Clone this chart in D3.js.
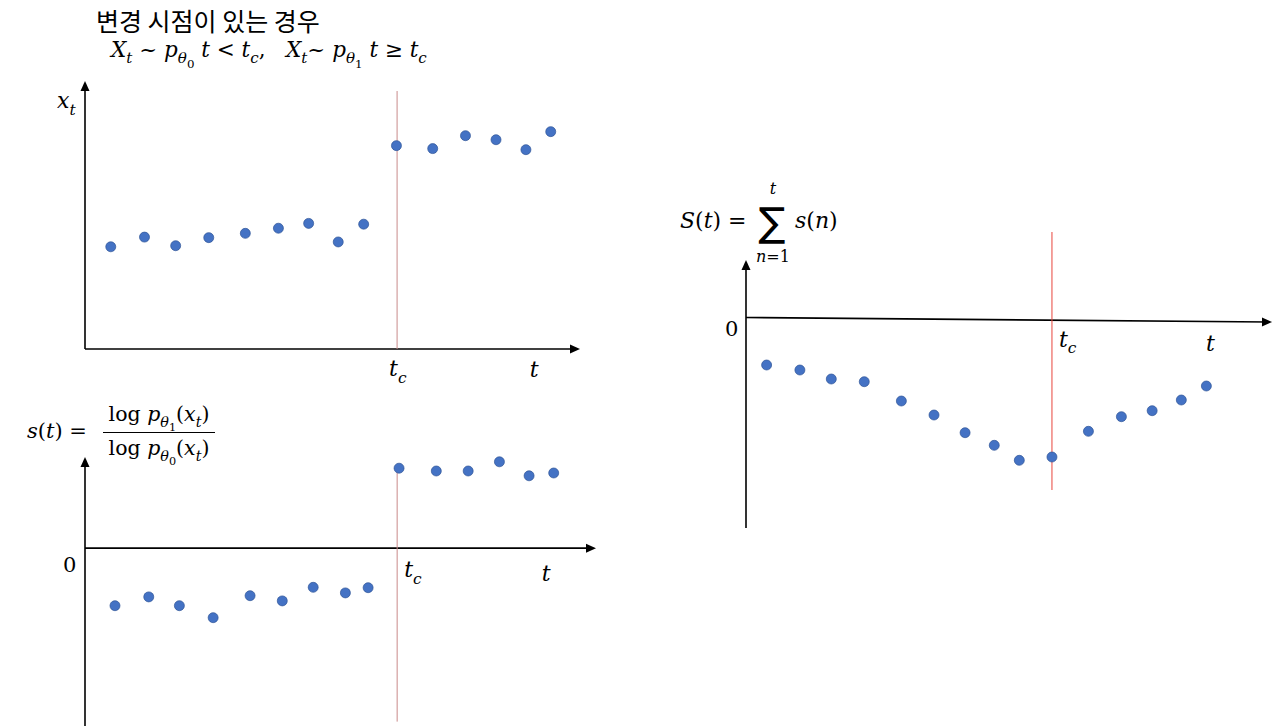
<!DOCTYPE html>
<html>
<head>
<meta charset="utf-8">
<script src="https://cdn.jsdelivr.net/npm/d3@7"></script>
<style>
  html, body { margin: 0; padding: 0; background: #fff; }
  svg { display: block; }
  text { white-space: pre; }
</style>
</head>
<body>
<svg id="chart" width="1280" height="727"></svg>
<script>
// ---------------- DATA ----------------
// Panel 1: observations x_t
const p1T = [1.00, 2.06, 3.04, 4.08, 5.23, 6.27, 7.22, 8.15, 8.95, 9.98, 11.12, 12.15, 13.11, 14.05, 14.83];
const p1X = [3.80, 4.16, 3.84, 4.14, 4.30, 4.49, 4.67, 3.98, 4.64, 7.56, 7.45, 7.93, 7.78, 7.41, 8.08];
const p1Tc = 10.0;
// Panel 2: log-likelihood ratio s(t)
const p2T = [1.00, 2.07, 3.04, 4.11, 5.28, 6.30, 7.28, 8.30, 9.02, 10.00, 11.18, 12.19, 13.18, 14.12, 14.90];
const p2S = [-1.44, -1.22, -1.44, -1.74, -1.19, -1.32, -0.98, -1.12, -0.99, 2.00, 1.93, 1.93, 2.16, 1.81, 1.88];
const p2Tc = 9.94;
// Panel 3: cumulative sum S(t)
const p3T = [1.00, 2.05, 3.04, 4.08, 5.25, 6.28, 7.26, 8.18, 8.97, 10.00, 11.15, 12.19, 13.16, 14.08, 14.87];
const p3S = [-4.75, -5.25, -6.15, -6.42, -8.35, -9.75, -11.52, -12.78, -14.28, -13.95, -11.38, -9.92, -9.32, -8.25, -6.85];
const p3Tc = 10.0;

// ---------------- STYLE ----------------
const MATH_FONT = "'DejaVu Serif', 'Liberation Serif', serif";
const KR_FONT = "'Noto Sans CJK KR', 'Noto Sans', sans-serif";
const DOT_FILL = "#4472c4";
const DOT_STROKE = "#2f5597";

const svg = d3.select("#chart");
svg.append("rect").attr("width", 1280).attr("height", 727).attr("fill", "#fff");

// ---------------- HELPERS ----------------
function math(g, x, y, size, parts, anchor) {
  const t = g.append("text")
    .attr("x", x).attr("y", y)
    .attr("font-size", size)
    .attr("font-family", MATH_FONT)
    .attr("fill", "#000")
    .attr("text-anchor", anchor || "start");
  let cur = 0;
  parts.forEach(p => {
    const txt = p[0], lvl = p[1] || 0, it = p[2] === undefined ? true : p[2];
    const shift = [0, 0.3, 0.5][lvl] * size;
    const fs = [1, 0.7, 0.55][lvl] * size;
    t.append("tspan")
      .attr("dy", shift - cur)
      .attr("font-size", fs)
      .attr("font-style", it ? "italic" : "normal")
      .text(txt);
    cur = shift;
  });
  return t;
}

function arrowHead(g, x, y, angleDeg) {
  g.append("path")
    .attr("d", "M0,0 L-10,-4.5 L-10,4.5 Z")
    .attr("fill", "#000")
    .attr("transform", `translate(${x},${y}) rotate(${angleDeg})`);
}

function dots(g, xs, ys, T, V) {
  g.selectAll("circle.pt").data(T.map((t, i) => ({ t, v: V[i] })))
    .enter().append("circle")
    .attr("class", "pt")
    .attr("cx", d => xs(d.t))
    .attr("cy", d => ys(d.v))
    .attr("r", 5)
    .attr("fill", DOT_FILL)
    .attr("stroke", DOT_STROKE)
    .attr("stroke-width", 0.7);
}

// ---------------- TITLE ----------------
svg.append("text")
  .attr("x", 96).attr("y", 31)
  .attr("font-family", KR_FONT)
  .attr("font-size", 25)
  .attr("fill", "#000")
  .text("변경 시점이 있는 경우");

math(svg, 111, 57, 21.5, [
  ["X"], ["t", 1], [" ~ ", 0, false], ["p"], ["θ", 1], ["0", 2, false], [" t ", 0, true],
  ["< ", 0, false], ["t"], ["c", 1], [",   ", 0, false],
  ["X"], ["t", 1], ["~ ", 0, false], ["p"], ["θ", 1], ["1", 2, false], [" t ", 0, true],
  ["≥ ", 0, false], ["t"], ["c", 1]
]);

// ---------------- PANEL 1 ----------------
{
  const g = svg.append("g");
  const x = d3.scaleLinear().domain([0.19, 15.75]).range([85, 580]);
  const y = d3.scaleLinear().domain([0, 10]).range([349, 80]);
  const [t0, t1] = x.domain();
  g.append("line").attr("x1", x(t0)).attr("y1", y(0)).attr("x2", x(t1) - 4).attr("y2", y(0))
    .attr("stroke", "#000").attr("stroke-width", 1.6);
  arrowHead(g, x(t1), y(0), 0);
  g.append("line").attr("x1", x(t0)).attr("y1", y(0)).attr("x2", x(t0)).attr("y2", y(9.96) + 4)
    .attr("stroke", "#000").attr("stroke-width", 1.6);
  arrowHead(g, x(t0), y(9.96), -90);
  g.append("line").attr("x1", x(p1Tc)).attr("x2", x(p1Tc)).attr("y1", y(9.59)).attr("y2", y(0))
    .attr("stroke", "#c98a8a").attr("stroke-width", 1);
  dots(g, x, y, p1T, p1X);
  math(g, 57, 108, 22, [["x"], ["t", 1]]);
  math(g, x(p1Tc) - 8, y(0) + 27, 22, [["t"], ["c", 1]]);
  math(g, x(14.17), y(0) + 28, 22, [["t"]]);
}

// ---------------- PANEL 2 ----------------
{
  const g = svg.append("g");
  const x = d3.scaleLinear().domain([0.05, 16.24]).range([85, 596]);
  const y = d3.scaleLinear().domain([-4.45, 2.28]).range([726, 457]);
  const [t0, t1] = x.domain();
  g.append("line").attr("x1", x(t0)).attr("y1", y(0)).attr("x2", x(t1) - 4).attr("y2", y(0))
    .attr("stroke", "#000").attr("stroke-width", 1.6);
  arrowHead(g, x(t1), y(0), 0);
  g.append("line").attr("x1", x(t0)).attr("y1", y(-4.45)).attr("x2", x(t0)).attr("y2", y(2.28) + 4)
    .attr("stroke", "#000").attr("stroke-width", 1.6);
  arrowHead(g, x(t0), y(2.28), -90);
  g.append("line").attr("x1", x(p2Tc)).attr("x2", x(p2Tc)).attr("y1", y(2.0)).attr("y2", y(-4.34))
    .attr("stroke", "#c98a8a").attr("stroke-width", 1);
  dots(g, x, y, p2T, p2S);
  math(g, 63, y(0) + 24, 21, [["0", 0, false]]);
  math(g, x(p2Tc) + 7, y(0) + 29, 22, [["t"], ["c", 1]]);
  math(g, x(14.52), y(0) + 33, 22, [["t"]]);

  // formula s(t)
  math(svg, 27, 438, 21, [["s"], ["(", 0, false], ["t"], [")", 0, false], [" =", 0, false]]);
  math(svg, 159, 421, 20.5, [["log ", 0, false], ["p"], ["θ", 1], ["1", 2, false], ["(", 0, false], ["x"], ["t", 1], [")", 0, false]], "middle");
  svg.append("line").attr("x1", 103).attr("x2", 215).attr("y1", 432.5).attr("y2", 432.5)
    .attr("stroke", "#000").attr("stroke-width", 1.2);
  math(svg, 159, 455, 20.5, [["log ", 0, false], ["p"], ["θ", 1], ["0", 2, false], ["(", 0, false], ["x"], ["t", 1], [")", 0, false]], "middle");
}

// ---------------- PANEL 3 ----------------
{
  const g = svg.append("g");
  const x = d3.scaleLinear().domain([0.35, 16.94]).range([746, 1272]);
  const y = d3.scaleLinear().domain([-21.05, 5.75]).range([528, 260]);
  const [t0, t1] = x.domain();
  const tilt = 4.5; // hand-drawn axis drifts slightly downward
  const ang = Math.atan2(tilt, x(t1) - x(t0)) * 180 / Math.PI;
  g.append("line").attr("x1", x(t0)).attr("y1", y(0)).attr("x2", x(t1) - 4).attr("y2", y(0) + tilt)
    .attr("stroke", "#000").attr("stroke-width", 1.6);
  arrowHead(g, x(t1), y(0) + tilt, ang);
  g.append("line").attr("x1", x(t0)).attr("y1", y(-21.05)).attr("x2", x(t0)).attr("y2", y(5.75) + 4)
    .attr("stroke", "#000").attr("stroke-width", 1.6);
  arrowHead(g, x(t0), y(5.75), -90);
  g.append("line").attr("x1", x(p3Tc)).attr("x2", x(p3Tc)).attr("y1", y(8.55)).attr("y2", y(-17.25))
    .attr("stroke", "#e8453c").attr("stroke-width", 1);
  dots(g, x, y, p3T, p3S);
  math(g, 725, y(0) + 18.5, 21, [["0", 0, false]]);
  math(g, x(p3Tc) + 7, y(0) + 29, 22, [["t"], ["c", 1]]);
  math(g, x(14.86), y(0) + 33, 22, [["t"]]);

  // formula S(t)
  math(svg, 680, 228, 22, [["S"], ["(", 0, false], ["t"], [")", 0, false], [" =", 0, false]]);
  svg.append("text").attr("x", 772).attr("y", 236).attr("text-anchor", "middle")
    .attr("font-family", "'DejaVu Sans', sans-serif").attr("font-size", 40).text("∑");
  math(svg, 773, 194, 16, [["t"]], "middle");
  math(svg, 773, 262, 16, [["n"], ["=1", 0, false]], "middle");
  math(svg, 795, 228, 22, [["s"], ["(", 0, false], ["n"], [")", 0, false]]);
}
</script>
</body>
</html>
